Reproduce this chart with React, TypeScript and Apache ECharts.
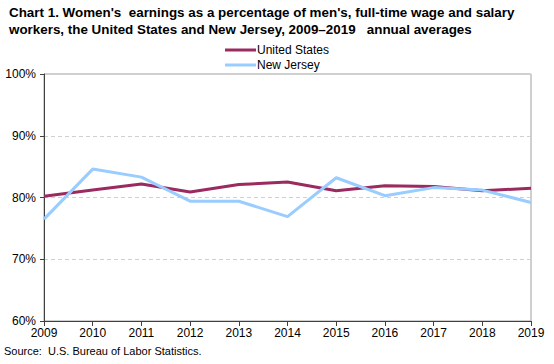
import React, { useEffect, useRef } from "react";
import * as echarts from "echarts";

const years = ["2009", "2010", "2011", "2012", "2013", "2014", "2015", "2016", "2017", "2018", "2019"];
const unitedStates = [80.2, 81.2, 82.2, 80.9, 82.1, 82.5, 81.1, 81.9, 81.8, 81.1, 81.5];
const newJersey = [76.5, 84.6, 83.3, 79.4, 79.4, 76.9, 83.2, 80.3, 81.6, 81.2, 79.2];

const FONT = "'Liberation Sans', Arial, sans-serif";

export default function App() {
  const ref = useRef<HTMLDivElement>(null);
  useEffect(() => {
    if (!ref.current) return;
    const chart = echarts.init(ref.current, undefined, { renderer: "svg" });
    chart.setOption({
      animation: false,
      textStyle: { fontFamily: FONT },
      title: {
        text: "Chart 1. Women's  earnings as a percentage of men's, full-time wage and salary\nworkers, the United States and New Jersey, 2009\u20132019   annual averages",
        left: 4,
        top: -1,
        textStyle: { fontFamily: FONT, fontSize: 13.4, fontWeight: "bold", color: "#000", lineHeight: 17 },
      },
      legend: {
        orient: "vertical",
        left: 220,
        top: 38,
        padding: [5, 5, 5, 5],
        itemGap: 1,
        itemWidth: 31,
        itemHeight: 3,
        icon: "rect",
        textStyle: { fontFamily: FONT, fontSize: 12, lineHeight: 14, color: "#000", padding: [0, 0, 0, -4] },
        data: ["United States", "New Jersey"],
      },
      grid: {
        left: 44,
        right: 23,
        top: 74,
        bottom: 43,
        show: true,
        borderColor: "#a0a0a0",
        borderWidth: 1,
      },
      xAxis: {
        type: "category",
        data: years,
        boundaryGap: false,
        axisLine: { lineStyle: { color: "#404040", width: 1 } },
        axisTick: { show: true, length: 5, lineStyle: { color: "#404040" } },
        axisLabel: { color: "#000", fontSize: 12, margin: 6, fontFamily: FONT },
        splitLine: { show: false },
      },
      yAxis: {
        type: "value",
        min: 60,
        max: 100,
        interval: 10,
        axisLine: { show: true, lineStyle: { color: "#404040", width: 1 } },
        axisTick: { show: true, length: 4, lineStyle: { color: "#404040" } },
        axisLabel: { color: "#000", fontSize: 12, margin: 8, formatter: "{value}%", fontFamily: FONT },
        splitLine: { show: true, lineStyle: { color: "#d0d0d0", type: [4, 3], width: 1 } },
      },
      series: [
        {
          name: "United States",
          type: "line",
          data: unitedStates,
          symbol: "none",
          lineStyle: { color: "#9a2a5f", width: 3 },
          itemStyle: { color: "#9a2a5f" },
          z: 2,
        },
        {
          name: "New Jersey",
          type: "line",
          data: newJersey,
          symbol: "none",
          lineStyle: { color: "#99ccff", width: 3 },
          itemStyle: { color: "#99ccff" },
          z: 3,
        },
      ],
      graphic: [
        {
          type: "text",
          left: 4,
          top: 345,
          style: { text: "Source:  U.S. Bureau of Labor Statistics.", font: `11px ${FONT}`, fill: "#000" },
        },
      ],
    });
    return () => chart.dispose();
  }, []);
  return <div ref={ref} style={{ width: 554, height: 364, position: "absolute", left: 0, top: 0 }} />;
}
